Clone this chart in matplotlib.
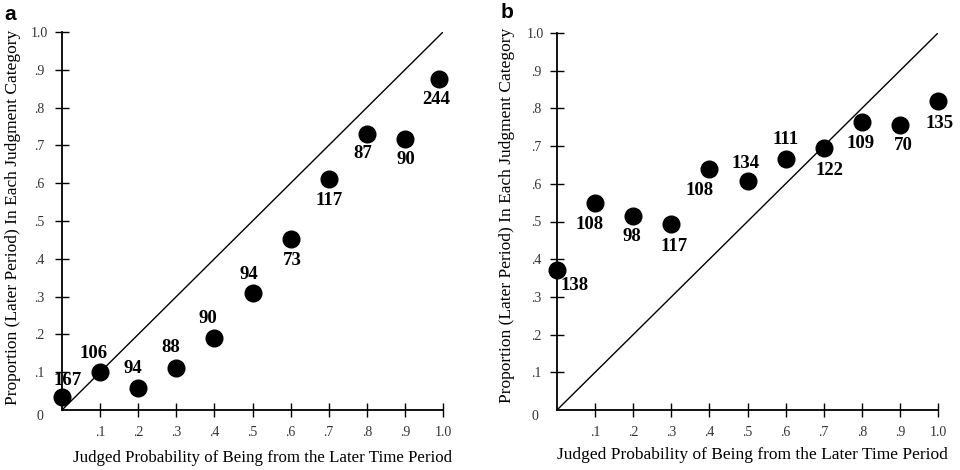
import matplotlib
matplotlib.use("Agg")
import matplotlib.pyplot as plt

# ---- data ----
judged_a = [0.0, 0.1, 0.2, 0.3, 0.4, 0.5, 0.6, 0.7, 0.8, 0.9, 0.99]
prop_a = [0.035, 0.10, 0.057, 0.11, 0.19, 0.309, 0.452, 0.611, 0.731, 0.717, 0.876]
counts_a = ["167", "106", "94", "88", "90", "94", "73", "117", "87", "90", "244"]

judged_b = [0.0, 0.1, 0.2, 0.3, 0.4, 0.5, 0.6, 0.7, 0.8, 0.9, 1.0]
prop_b = [0.371, 0.548, 0.515, 0.493, 0.638, 0.607, 0.665, 0.694, 0.763, 0.756, 0.82]
counts_b = ["138", "108", "98", "117", "108", "134", "111", "122", "109", "70", "135"]

tick_vals = [0.1, 0.2, 0.3, 0.4, 0.5, 0.6, 0.7, 0.8, 0.9, 1.0]
tick_labels = [".1", ".2", ".3", ".4", ".5", ".6", ".7", ".8", ".9", "1.0"]

xlabel = "Judged Probability of Being from the Later Time Period"
ylabel = "Proportion (Later Period) In Each Judgment Category"

# ---- layout (label offsets in pixels; positive y = up) ----
offsets_a = [(6, 16), (-7, 19), (-5, 20), (-6, 21), (-7, 20), (-4, 19),
             (2, -21), (0, -21), (-4, -20), (1, -21), (-3, -21)]
offsets_b = [(18, -15), (-6, -21), (-1, -21), (3, -22), (-10, -21), (-2, 18),
             (0, 20), (6, -22), (-1, -21), (3, -21), (2, -23)]

SERIF = ["Liberation Serif", "DejaVu Serif"]

fig = plt.figure(figsize=(9.6, 4.7), dpi=100)
W, H = 960.0, 470.0


def panel(rect, xs, ys, counts, offsets, letter, letter_xy, xl, yl, xl_size, ypad):
    ax = fig.add_axes(rect)
    ax.set_xlim(0, 1)
    ax.set_ylim(0, 1)
    for s in ("top", "right"):
        ax.spines[s].set_visible(False)
    for s in ("left", "bottom"):
        ax.spines[s].set_linewidth(1.3)
    ax.plot([0, 1], [0, 1], color="black", lw=1.0, zorder=2)
    ax.plot(xs, ys, "o", color="black", markersize=12, clip_on=False, zorder=3)
    for x, y, c, (dx, dy) in zip(xs, ys, counts, offsets):
        ax.annotate(c, (x, y), xytext=(dx, dy), textcoords="offset pixels",
                    ha="center", va="center", fontsize=13.5, fontweight="bold",
                    family=SERIF, color="black")
    ax.set_xticks(tick_vals)
    ax.set_xticklabels(tick_labels)
    ax.set_yticks(tick_vals)
    ax.set_yticklabels(tick_labels)
    ax.tick_params(direction="inout", length=9.5, width=1.0, colors="black",
                   labelsize=10, labelcolor="#333333")
    ax.tick_params(axis="x", pad=7)
    ax.tick_params(axis="y", pad=ypad)
    for lab in ax.get_xticklabels():
        lab.set_family(SERIF)
    for lab in ax.get_yticklabels():
        lab.set_family(SERIF)
        lab.set_horizontalalignment("center")
    ax.text(-0.05, -0.016, "0", transform=ax.transAxes, ha="right", va="center",
            fontsize=10, family=SERIF, color="#333333")
    ax.set_xlabel(xlabel, fontsize=xl_size, family=SERIF)
    ax.set_ylabel(ylabel, fontsize=12.5, family=SERIF)
    ax.xaxis.set_label_coords(xl[0], xl[1])
    ax.yaxis.set_label_coords(yl[0], yl[1])
    ax.yaxis.label.set_va("center")
    ax.xaxis.label.set_va("center")
    fig.text(letter_xy[0] / W, 1 - letter_xy[1] / H, letter, fontsize=15,
             fontweight="bold", family=["Liberation Sans", "DejaVu Sans"],
             ha="center", va="center")
    return ax


panel([62 / W, 1 - 410 / H, 381 / W, 378 / H], judged_a, prop_a, counts_a,
      offsets_a, "a", (10, 15), (0.525, -0.127), (-0.129, 0.51), 12.2, 11.5)
panel([557 / W, 1 - 410 / H, 381 / W, 377 / H], judged_b, prop_b, counts_b,
      offsets_b, "b", (507, 12), (0.513, -0.119), (-0.132, 0.515), 12.5, 10.5)

fig.savefig("out.png", dpi=100)
